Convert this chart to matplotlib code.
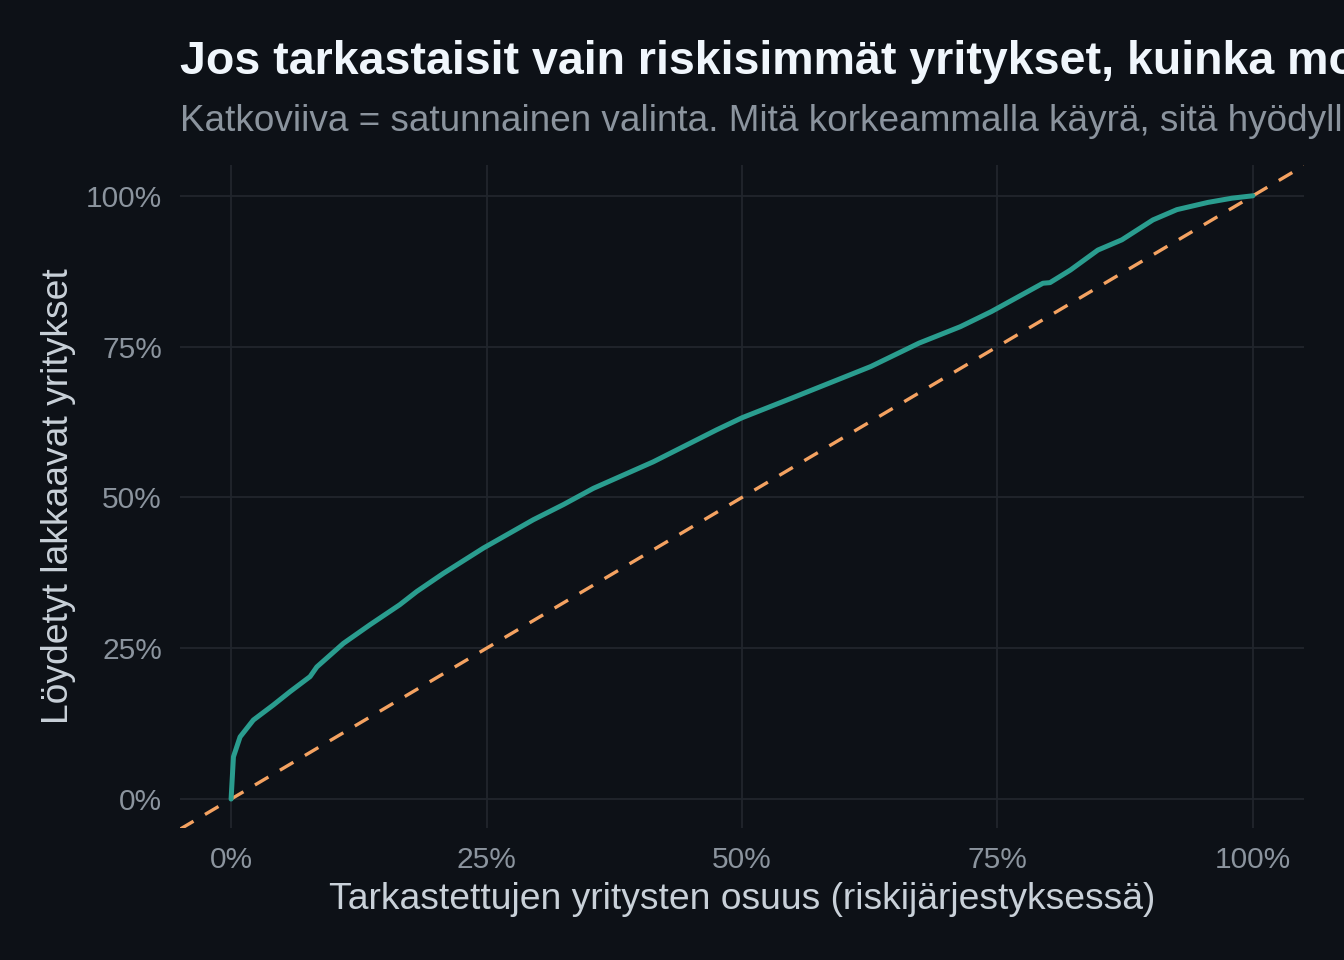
import matplotlib
matplotlib.use("Agg")
import matplotlib.pyplot as plt
import numpy as np

# cumulative gain curve
share_checked = [0.0, 0.0023, 0.0088, 0.0218, 0.0414, 0.0577, 0.0773, 0.0839,
                 0.1099, 0.136, 0.165, 0.1817, 0.2077, 0.2469, 0.2698, 0.2958,
                 0.3251, 0.3545, 0.4132, 0.4752, 0.50, 0.5486, 0.6261, 0.6732,
                 0.7137, 0.744, 0.7945, 0.8014, 0.8215, 0.8483, 0.8718, 0.9022,
                 0.9256, 0.956, 0.9795, 1.0]
share_found = [0.0, 0.070, 0.103, 0.131, 0.156, 0.178, 0.203, 0.219,
               0.258, 0.289, 0.322, 0.344, 0.374, 0.416, 0.438, 0.463,
               0.488, 0.515, 0.559, 0.612, 0.632, 0.6645, 0.717, 0.7557,
               0.783, 0.808, 0.855, 0.856, 0.877, 0.910, 0.927, 0.960,
               0.977, 0.989, 0.996, 1.0]
ticks = [0, 0.25, 0.5, 0.75, 1.0]
tick_labels = ["0%", "25%", "50%", "75%", "100%"]

title = "Jos tarkastaisit vain riskisimmät yritykset, kuinka monta lakkaavaa löytäisit?"
subtitle = "Katkoviiva = satunnainen valinta. Mitä korkeammalla käyrä, sitä hyödyllisempi malli."
xlab = "Tarkastettujen yritysten osuus (riskijärjestyksessä)"
ylab = "Löydetyt lakkaavat yritykset"

bg = "#0d1117"
grid_col = "#21262d"
muted = "#8b949e"

plt.rcParams['font.family'] = ['Liberation Sans', 'DejaVu Sans']

W, H = 1344, 960
fig = plt.figure(figsize=(W / 100, H / 100), dpi=100, facecolor=bg)
ax = fig.add_axes([180 / W, (H - 828) / H, 1124 / W, 663 / H], facecolor=bg)

lo, hi = -0.05, 1.05
ax.plot([lo, hi], [lo, hi], color="#f4a261", lw=2.4, dashes=(4.7, 4.0),
        dash_capstyle="butt", zorder=2)
ax.plot(share_checked, share_found, color="#2a9d8f", lw=3.6, zorder=3,
        solid_joinstyle="round", solid_capstyle="round")

ax.set_xlim(lo, hi)
ax.set_ylim(-0.048, 1.051)
ax.set_xticks(ticks)
ax.set_xticklabels(tick_labels)
ax.set_yticks(ticks)
ax.set_yticklabels(tick_labels)
ax.grid(True, color=grid_col, lw=1.3)
ax.set_axisbelow(True)
for s in ax.spines.values():
    s.set_visible(False)
ax.tick_params(length=0, colors=muted, labelsize=21.5, pad=13)

ax.set_xlabel(xlab, color="#c9d1d9", fontsize=26.8, labelpad=6)
ax.set_ylabel(ylab, color="#c9d1d9", fontsize=26.8, labelpad=7)

# title and subtitle run past the right edge, as in the original
fig.text(180 / W, 1 - 74 / H, title, color="#f0f6fc", fontsize=33.5,
         fontweight="bold", va="baseline", ha="left")
fig.text(180 / W, 1 - 131 / H, subtitle, color=muted, fontsize=26.6,
         va="baseline", ha="left")

fig.savefig("out.png", dpi=100, facecolor=bg)
